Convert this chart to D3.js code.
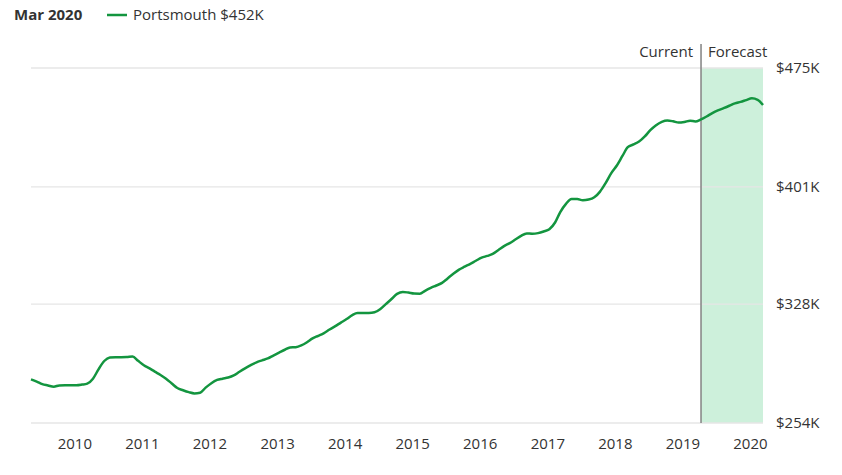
<!DOCTYPE html>
<html>
<head>
<meta charset="utf-8">
<script src="https://cdn.jsdelivr.net/npm/d3@7"></script>
<style>
body{margin:0;background:#fff;font-family:"Open Sans",sans-serif;}
</style>
</head>
<body>
<div id="chart"></div>
<script>
// monthly values, May 2009 .. Mar 2020 (thousands of $)
var startMonth='2009-05';
var currentMonth='2019-04';
var values=[
281.2,279.8,278.2,277.4,276.6,277.4,277.5,277.5,
277.5,277.9,278.5,281.6,287.4,292.6,294.8,295.0,295.0,295.1,295.4,292.7,
290.0,288.0,286.0,283.9,281.6,278.6,275.8,274.4,273.2,272.4,272.8,276.0,
278.8,280.8,281.6,282.3,283.6,285.9,288.0,290.0,291.8,293.0,294.2,296.0,
297.8,299.6,301.0,301.2,302.3,304.3,306.7,308.3,310.0,312.2,314.3,316.5,
318.7,321.2,322.5,322.5,322.5,322.9,324.8,328.0,331.2,334.4,335.6,335.2,
334.6,334.5,336.3,338.1,339.6,341.2,344.0,346.9,349.5,351.3,353.1,355.0,
356.9,358.0,359.3,361.7,364.1,366.0,368.2,370.5,372.0,371.8,372.2,373.2,
374.6,378.8,385.3,390.4,393.5,393.4,392.7,393.1,394.5,397.9,403.3,409.4,
414.3,420.4,425.7,427.4,429.2,432.4,436.3,439.4,441.5,442.3,441.8,441.0,
441.4,442.2,441.7,443.0,444.8,446.9,448.6,450.0,451.5,453.0,453.9,455.0,
456.1,455.2,452.0
];
var yTicks=[254,328,401,475];
var xTickYears=[2010,2011,2012,2013,2014,2015,2016,2017,2018,2019,2020];

var W=842,H=475;
var parse=d3.timeParse('%Y-%m');
var t0=parse(startMonth);
var data=values.map(function(v,i){return {d:d3.timeMonth.offset(t0,i),v:v};});

var svg=d3.select('#chart').append('svg').attr('width',W).attr('height',H);

var x=d3.scaleTime().domain(d3.extent(data,function(d){return d.d;})).range([31,763]);
var y=d3.scaleLinear().domain([254,475]).range([423,68]);

var cur=parse(currentMonth);

// forecast band
svg.append('rect')
	.attr('x',x(cur)).attr('y',y(475))
	.attr('width',x(data[data.length-1].d)-x(cur))
	.attr('height',y(254)-y(475))
	.style('fill','#cdf0db');

// grid
svg.append('g').selectAll('line').data(yTicks).enter().append('line')
	.attr('x1',31).attr('x2',763)
	.attr('y1',function(d){return y(d);}).attr('y2',function(d){return y(d);})
	.style('stroke','#e6e6e6').style('stroke-width',1.3);

// right axis
var yAxis=d3.axisRight(y).tickValues(yTicks).tickSize(0).tickPadding(0)
	.tickFormat(function(d){return '$'+d+'K';});
var gy=svg.append('g').attr('transform','translate(776,0)').call(yAxis);
gy.select('.domain').remove();
gy.selectAll('text').style('font-family','"Open Sans",sans-serif').style('font-size','15px').style('fill','#333');

// bottom axis
var xAxis=d3.axisBottom(x).tickValues(xTickYears.map(function(yr){return new Date(yr,0,1);}))
	.tickSize(0).tickPadding(0).tickFormat(d3.timeFormat('%Y'));
var gx=svg.append('g').attr('transform','translate(-2,438)').call(xAxis);
gx.select('.domain').remove();
gx.selectAll('text').style('font-family','"Open Sans",sans-serif').style('font-size','15px').style('fill','#333');

// current marker
svg.append('line')
	.attr('x1',x(cur)).attr('x2',x(cur)).attr('y1',44).attr('y2',423)
	.style('stroke','#8a8a8a').style('stroke-width',1.6);
svg.append('text').attr('x',x(cur)-8).attr('y',57).attr('text-anchor','end')
	.text('Current').style('font-size','15px').style('fill','#333');
svg.append('text').attr('x',x(cur)+7).attr('y',57)
	.text('Forecast').style('font-size','15px').style('fill','#333');

// line
var line=d3.line().x(function(d){return x(d.d);}).y(function(d){return y(d.v);}).curve(d3.curveMonotoneX);
svg.append('path').datum(data).attr('d',line)
	.style('fill','none').style('stroke','#13953f').style('stroke-width',2.5)
	.style('stroke-linejoin','round');

// header / legend
svg.append('text').attr('x',14).attr('y',20).text('Mar 2020')
	.style('font-size','15px').style('font-weight','bold').style('fill','#333');
svg.append('line').attr('x1',107).attr('x2',127).attr('y1',15).attr('y2',15)
	.style('stroke','#13953f').style('stroke-width',2.5);
svg.append('text').attr('x',133).attr('y',20)
	.text('Portsmouth $'+Math.round(values[values.length-1])+'K')
	.style('font-size','15px').style('fill','#333');
</script>
</body>
</html>
